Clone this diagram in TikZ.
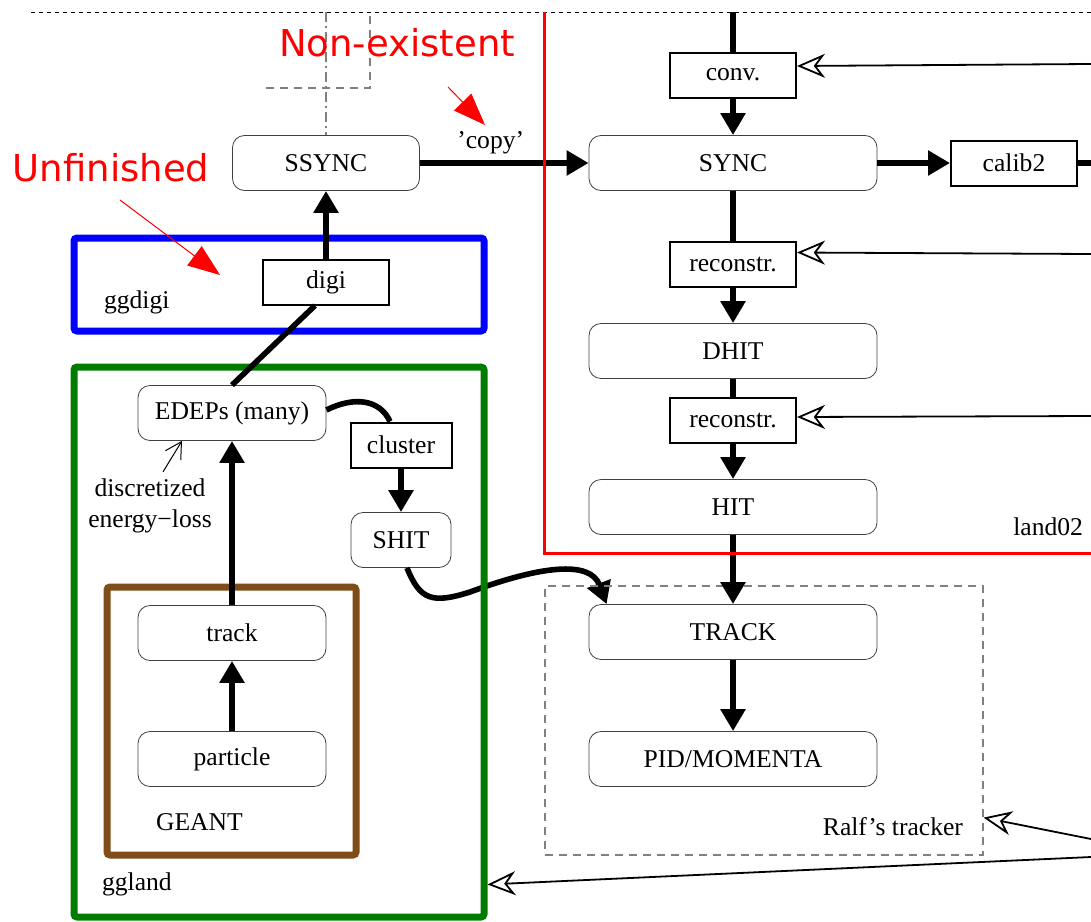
\documentclass[tikz,border=0pt]{standalone}
\usepackage{fontspec}
\setmainfont{Liberation Serif}
\newfontfamily\notefont{DejaVu Sans}
\usetikzlibrary{arrows.meta}
\definecolor{geantbrown}{RGB}{128,77,25}
\definecolor{gglandgreen}{RGB}{0,125,0}

\begin{document}
\begin{tikzpicture}[x=0.5pt, y=-0.5pt,
        font=\fontsize{12.8}{15.5}\selectfont,
        % gemeinsame Stile
        stage/.style={
            rectangle, draw=black!75, rounded corners=6pt,
            minimum width=#1, minimum height=27.5pt, inner sep=1pt
        },
        stage/.default=94pt,
        tool/.style={
            rectangle, draw, line width=1pt,
            minimum width=#1, minimum height=22.5pt, inner sep=1pt
        },
        tool/.default=63pt,
        grp/.style={draw=#1, line width=3.5pt, rounded corners=1.5pt},
        arr/.style={line width=2.8pt, -{Triangle[length=11pt,width=12pt]}},
        link/.style={line width=2.8pt},
        feed/.style={line width=0.9pt, -{Stealth[open,length=14pt,width=12pt,inset=4.5pt]}},
        redarr/.style={red, line width=0.5pt, -{Triangle[length=16pt,width=12pt]}},
        redlabel/.style={text=red, font=\notefont\fontsize{18.5}{22}\selectfont},
        graydash/.style={gray, line width=0.6pt, dash pattern=on 4pt off 3pt}
    ]
        \useasboundingbox (0,0) rectangle (1091,921);

        % Rahmen oben
        \draw[line width=0.4pt, dash pattern=on 2pt off 2pt] (31,12) -- (1091,12);
        \draw[gray, line width=0.6pt, dash pattern=on 5pt off 2pt on 1pt off 2pt] (326,12) -- (326,135);
        \draw[graydash] (370,16) -- (370,88) -- (262,88);

        % Knoten
        \node[stage=93.5pt] (ssync) at (326,163) {SSYNC};
        \node[stage=144pt] (sync) at (733,163) {SYNC};
        \node[stage=144pt] (dhit) at (733,351) {DHIT};
        \node[stage=144pt] (hit) at (733,507) {HIT};
        \node[stage=144pt] (trk) at (733,632) {TRACK};
        \node[stage=144pt] (pid) at (733,759) {PID/MOMENTA};
        \node[stage] (edeps) at (232,413) {EDEPs (many)};
        \node[stage=50pt] (shit) at (401,540) {SHIT};
        \node[stage] (track) at (232,633) {track};
        \node[stage] (particle) at (232,759) {particle};

        \node[tool] (conv) at (733,75) {conv.};
        \node[tool] (calib) at (1014,163) {calib2};
        \node[tool] (recoA) at (733,264) {reconstr.};
        \node[tool] (recoB) at (733,420) {reconstr.};
        \node[tool] (digi) at (326,282) {digi};
        \node[tool=50.5pt] (cluster) at (401,445) {cluster};

        \node[align=center] (eloss) at (150,506) {discretized\\energy−loss};

        % Kurve SHIT -> TRACK
        \draw[arr] ([xshift=3pt]shit.south) .. controls (420,600) and (432,604) .. (470,592)
            .. controls (540,566) and (590,560) .. ([xshift=9pt]trk.north west);

        % Gruppen
        \node[grp=blue, minimum width=205pt, minimum height=46.5pt] (ggdigibox) at (279,284.5) {};
        \node[grp=gglandgreen, minimum width=205pt, minimum height=275pt] (gglandbox) at (279,642) {};
        \node[grp=geantbrown, minimum width=124.5pt, minimum height=134pt] (geantbox) at (231.5,721) {};
        \node[graydash, draw, minimum width=219pt, minimum height=134.5pt] (ralfbox) at (764,720.5) {};

        \node[anchor=west] at (97,302) {ggdigi};
        \node[anchor=west] at (95,884) {ggland};
        \node[anchor=west] at (149,822) {GEANT};
        \node[anchor=east] at (1090,527) {land02};
        \node[anchor=east] at (970,827) {Ralf’s tracker};

        % Verbindungen
        \coordinate (topin) at (733,12);
        \coordinate (calibout) at (1091,163);
        \draw[link] (topin) -- (conv);
        \draw[arr] (conv) -- (sync);
        \draw[arr] (ssync) -- node[above, pos=0.42] {'copy'} (sync);
        \draw[arr] (sync) -- (calib);
        \draw[link] (calib) -- (calibout);
        \draw[link] (sync) -- (recoA);
        \draw[arr] (recoA) -- (dhit);
        \draw[link] (dhit) -- (recoB);
        \draw[arr] (recoB) -- (hit);
        \draw[arr] (hit) -- (trk);
        \draw[arr] (trk) -- (pid);
        \draw[arr] (digi) -- (ssync);
        \draw[link] (edeps.north) -- ([xshift=-5.5pt]digi.south);
        \draw[arr] (track) -- (edeps);
        \draw[arr] (particle) -- (track);
        \draw[arr] (cluster) -- (shit);
        \draw[link] ([yshift=1.5pt]edeps.east) .. controls +(28,-14) and +(-10,-22) .. ([xshift=-5.5pt]cluster.north);
        \draw[line width=0.5pt, -{Straight Barb[length=8pt,width=9pt]}] ([xshift=6.5pt]eloss.north) -- ([xshift=-25pt]edeps.south);

        % Zufluesse von rechts
        \coordinate (convsrc) at (1091,64);
        \coordinate (recoAsrc) at (1091,254);
        \coordinate (recoBsrc) at (1091,416);
        \coordinate (ralfsrc) at (1091,839);
        \coordinate (gglandsrc) at (1091,857);
        \draw[feed] (convsrc) -- ([yshift=4.5pt]conv.east);
        \draw[feed] (recoAsrc) -- ([yshift=5.75pt]recoA.east);
        \draw[feed] (recoBsrc) -- ([yshift=1.5pt]recoB.east);
        \draw[feed] (ralfsrc) -- ([yshift=19pt]ralfbox.south east);
        \draw[feed] (gglandsrc) -- ([yshift=18pt]gglandbox.south east);

        % land02
        \draw[red, line width=1.5pt] (1092,553) -- (544,553) -- (544,12);

        % Hinweise
        \node[redlabel] (nonex) at (397,43) {Non-existent};
        \node[redlabel] (unfin) at (111,168) {Unfinished};
        \coordinate (nonA) at (448,87);
        \coordinate (nonB) at (485,125);
        \coordinate (unfA) at (120,200);
        \coordinate (unfB) at (220,275);
        \draw[redarr] (nonA) -- (nonB);
        \draw[redarr] (unfA) -- (unfB);
    \end{tikzpicture}
\end{document}
